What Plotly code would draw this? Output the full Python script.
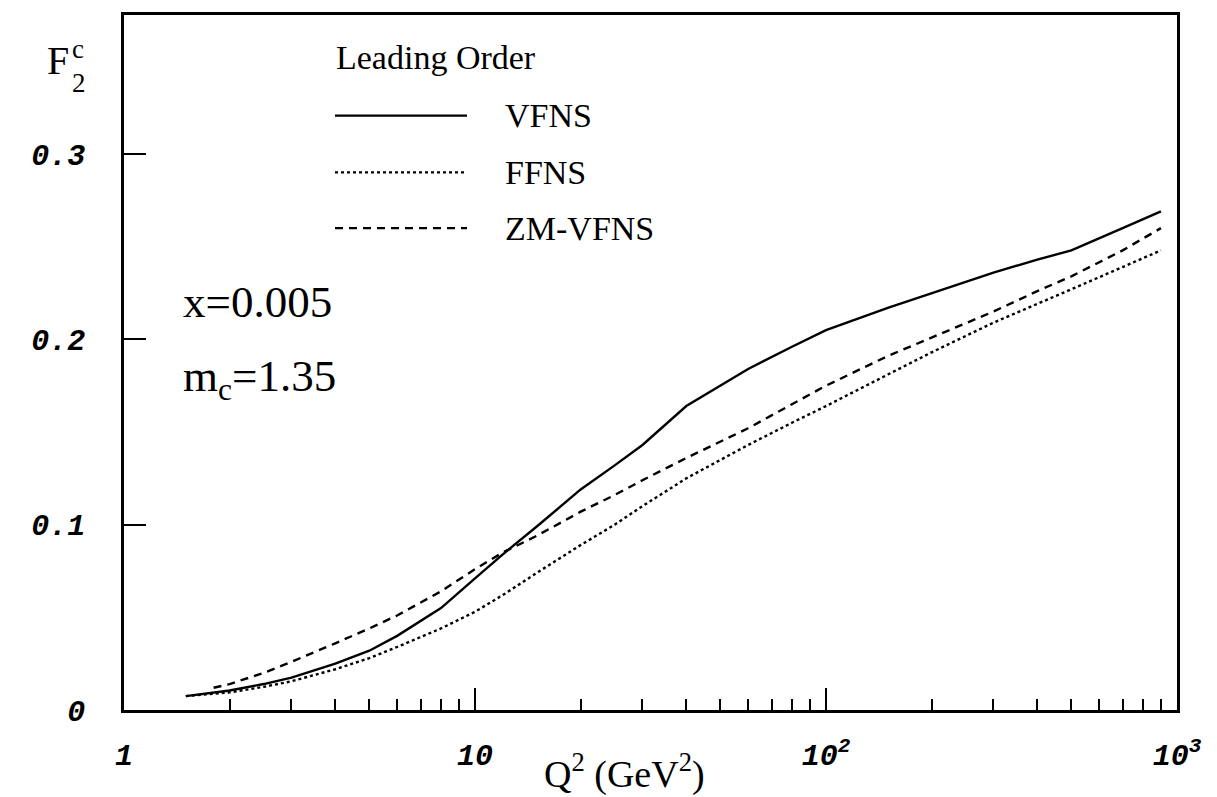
import plotly.graph_objects as go

# ---- data ----
q2_vfns = [1.5, 2, 2.5, 3, 4, 5, 6, 8, 10, 12, 15, 20, 25, 30, 40, 50, 60, 80, 100,
           150, 200, 300, 400, 500, 700, 900]
f2_vfns = [0.0075, 0.0105, 0.014, 0.0175, 0.025, 0.032, 0.040, 0.055, 0.071, 0.084, 0.099,
           0.119, 0.132, 0.143, 0.164, 0.175, 0.184, 0.196, 0.205, 0.217, 0.225, 0.236,
           0.243, 0.248, 0.260, 0.269]

q2_ffns = [1.5, 2, 2.5, 3, 4, 5, 6, 8, 10, 12, 15, 20, 25, 30, 40, 50, 60, 80, 100,
           150, 200, 300, 400, 500, 700, 900]
f2_ffns = [0.0075, 0.0095, 0.0125, 0.0155, 0.022, 0.028, 0.034, 0.044, 0.053, 0.062, 0.074,
           0.089, 0.100, 0.110, 0.125, 0.135, 0.143, 0.155, 0.164, 0.181, 0.193, 0.209,
           0.219, 0.227, 0.239, 0.248]

q2_zm = [1.8, 2, 2.5, 3, 4, 5, 6, 8, 10, 12, 15, 20, 25, 30, 40, 50, 60, 80, 100,
         150, 200, 300, 400, 500, 700, 900]
f2_zm = [0.012, 0.0140, 0.020, 0.026, 0.036, 0.044, 0.051, 0.064, 0.076, 0.085, 0.094,
         0.107, 0.116, 0.124, 0.136, 0.145, 0.152, 0.165, 0.175, 0.191, 0.201, 0.215,
         0.226, 0.234, 0.248, 0.260]

x_tickvals = [1, 10, 100, 1000]
x_ticktext = ["1", "10", "10<sup>2</sup>", "10<sup>3</sup>"]
x_minor = [2, 3, 4, 5, 6, 7, 8, 9, 20, 30, 40, 50, 60, 70, 80, 90,
           200, 300, 400, 500, 600, 700, 800, 900]
y_tickvals = [0, 0.1, 0.2, 0.3]
y_ticktext = ["0", "0.1", "0.2", "0.3"]

series_names = ["VFNS", "FFNS", "ZM-VFNS"]
series_dash = ["solid", "dot", "8px,6px"]

W, H = 1217, 797
L, R, T, B = 124, 1177, 12, 710


def px(x):
    return (x - L) / (R - L)


def py(y):
    return (B - y) / (B - T)


SERIF = "Liberation Serif"
MONO = "Liberation Mono"

fig = go.Figure()
for xs, ys, name, dash in zip([q2_vfns, q2_ffns, q2_zm], [f2_vfns, f2_ffns, f2_zm],
                              series_names, series_dash):
    fig.add_trace(go.Scatter(x=xs, y=ys, mode="lines", name=name,
                             line=dict(color="black", width=2.4, dash=dash),
                             showlegend=False))

# legend drawn manually
legend_y = [113, 170, 226]
for yy, name, dash in zip(legend_y, series_names, series_dash):
    fig.add_shape(type="line", xref="paper", yref="paper",
                  x0=px(335), x1=px(467), y0=py(yy), y1=py(yy),
                  line=dict(color="black", width=2.2, dash=dash))
    fig.add_annotation(xref="paper", yref="paper", x=px(503), y=py(yy), text=name,
                       showarrow=False, xanchor="left", yanchor="middle",
                       font=dict(family=SERIF, size=34, color="black"))
fig.add_annotation(xref="paper", yref="paper", x=px(334), y=py(55), text="Leading Order",
                   showarrow=False, xanchor="left", yanchor="middle",
                   font=dict(family=SERIF, size=34, color="black"))

fig.add_annotation(xref="paper", yref="paper", x=px(181), y=py(300), text="x=0.005",
                   showarrow=False, xanchor="left", yanchor="middle",
                   font=dict(family=SERIF, size=45, color="black"))
fig.add_annotation(xref="paper", yref="paper", x=px(181), y=py(378),
                   text="m<sub>c</sub>=1.35",
                   showarrow=False, xanchor="left", yanchor="middle",
                   font=dict(family=SERIF, size=45, color="black"))

# y-axis label F_2^c
fig.add_annotation(xref="paper", yref="paper", x=px(71), y=py(58), text="F",
                   showarrow=False, xanchor="right", yanchor="middle",
                   font=dict(family=SERIF, size=40, color="black"))
fig.add_annotation(xref="paper", yref="paper", x=px(70), y=py(46), text="c",
                   showarrow=False, xanchor="left", yanchor="middle",
                   font=dict(family=SERIF, size=27, color="black"))
fig.add_annotation(xref="paper", yref="paper", x=px(70), y=py(80), text="2",
                   showarrow=False, xanchor="left", yanchor="middle",
                   font=dict(family=SERIF, size=27, color="black"))

# x-axis title
fig.add_annotation(xref="paper", yref="paper", x=px(624), y=py(772),
                   text="Q<sup>2</sup> (GeV<sup>2</sup>)",
                   showarrow=False, xanchor="center", yanchor="middle",
                   font=dict(family=SERIF, size=38, color="black"))

tickfont = dict(family=MONO, size=30, color="black", weight="bold", style="italic")

fig.update_xaxes(type="log", range=[0, 3], showgrid=False, zeroline=False,
                 showline=True, linecolor="black", linewidth=2.5, mirror=True,
                 tickmode="array", tickvals=x_tickvals, ticktext=x_ticktext,
                 ticks="inside", ticklen=22, tickwidth=2, tickcolor="black",
                 tickfont=tickfont, ticklabelstandoff=16,
                 minor=dict(tickmode="array", tickvals=x_minor, ticks="inside",
                            ticklen=11, tickwidth=1.5, tickcolor="black", showgrid=False))
fig.update_yaxes(range=[0, 0.375], showgrid=False, zeroline=False,
                 showline=True, linecolor="black", linewidth=2.5, mirror=True,
                 tickmode="array", tickvals=y_tickvals, ticktext=y_ticktext,
                 ticks="inside", ticklen=22, tickwidth=1.5, tickcolor="black",
                 tickfont=tickfont, ticklabelstandoff=30)

fig.update_layout(width=W, height=H, margin=dict(l=L, r=W - R, t=T, b=H - B),
                  paper_bgcolor="white", plot_bgcolor="white", showlegend=False)

fig.write_html("out.html")
